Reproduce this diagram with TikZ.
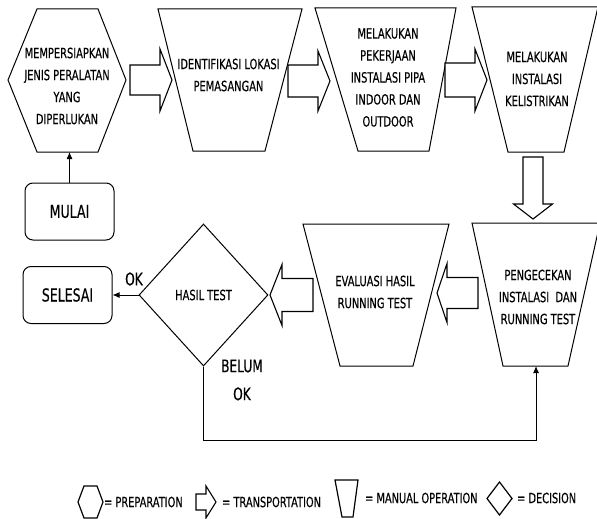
\documentclass[tikz,border=0pt]{standalone}
\usepackage{fontspec}
\setmainfont{DejaVu Sans}[FakeStretch=0.7, FakeBold=0.3]
\usetikzlibrary{shapes.geometric,arrows.meta}

\tikzset{
  outl/.style={draw, line width=1pt, line join=miter, fill=white},
  fat/.style={draw, line width=1.1pt, line join=miter, fill=white},
  lbl/.style={align=center, inner sep=0pt, font=\fontsize{14.1}{22}\selectfont},
  term/.style={draw, line width=1pt, rounded corners=8pt, minimum width=89pt,
               minimum height=57pt, inner sep=0pt, font=\fontsize{17.9}{20}\selectfont},
  dec/.style={draw, diamond, line width=1pt, minimum width=129pt, minimum height=142pt,
              inner sep=0pt, font=\fontsize{14.1}{16}\selectfont},
  conn/.style={draw, line width=1pt, -{Latex[length=7pt,width=6pt]}},
  tag/.style={inner sep=0pt, align=center, font=\fontsize{17.4}{28}\selectfont},
  key/.style={anchor=west, inner sep=0pt, font=\fontsize{14}{16}\selectfont},
  % hollow block arrow: head start / shaft half width / head half width / length
  pics/fatarrow/.style args={#1/#2/#3/#4}{code={
    \draw[fat] (0,-#2) -- (#1,-#2) -- (#1,-#3) -- (#4,0) -- (#1,#3) -- (#1,#2) -- (0,#2) -- cycle;
  }},
}

\begin{document}
\begin{tikzpicture}[x=1pt, y=-1pt]
\useasboundingbox (0,0) rectangle (597,519);
\clip (0,0) rectangle (597,519);

% preparation (hexagon)
\draw[outl] (37,9) -- (98,9) -- (126,80) -- (98,152) -- (37,152) -- (8,80) -- cycle;
\node[lbl] (prep) at (67,86) {MEMPERSIAPKAN\\JENIS PERALATAN\\YANG\\DIPERLUKAN};
\coordinate (prepS) at (69.5,152);

% manual operations, top row
\draw[outl] (158,9) -- (302,9) -- (265,151) -- (193,151) -- cycle;
\node[lbl] (lokasi) at (228.5,75) {IDENTIFIKASI LOKASI\\PEMASANGAN};

\draw[outl] (315,8) -- (456,8) -- (429,151) -- (358,151) -- cycle;
\node[lbl] (pipa) at (388,77.5) {MELAKUKAN\\PEKERJAAN\\INSTALASI PIPA\\INDOOR DAN\\OUTDOOR};

\draw[outl] (472,7) -- (598,7) -- (564,152) -- (508,152) -- cycle;
\node[lbl] (listrik) at (537,79) {MELAKUKAN\\INSTALASI\\KELISTRIKAN};

% manual operations, second row
\draw[outl] (303,224) -- (449,224) -- (413,366) -- (340,366) -- cycle;
\node[lbl] (eval) at (375,292) {EVALUASI HASIL\\RUNNING TEST};

\draw[outl] (472,223) -- (600,223) -- (568,366) -- (503,366) -- cycle;
\node[lbl] (cek) at (538,297) {PENGECEKAN\\INSTALASI\ \ DAN\\RUNNING TEST};
\coordinate (cekS) at (536,366);

% terminals and decision
\node[term] (mulai) at (69.5,211.5) {MULAI};
\node[term] (selesai) at (67.5,295) {SELESAI};
\node[dec] (test) at (203.5,295) {HASIL TEST};

% flow between steps
\pic at (130,80) {fatarrow=30/15/31/42};
\pic at (288,81) {fatarrow=30/16/30/42};
\pic at (445,80) {fatarrow=30/17/31/42};
\pic[rotate=-90] at (533,157) {fatarrow=47/10/19.5/62};
\pic[rotate=180] at (478,293) {fatarrow=31/15.5/29.5/41};
\pic[rotate=180] at (313,295) {fatarrow=31/16.5/30.5/43};

\draw[conn] (mulai.north) -- (prepS);
\draw[conn] (test.west) -- (selesai.east);
\draw[conn] (test.south) -- ++(0,74) -| (cekS);

\node[tag] (ok) at (134,279) {OK};
\node[tag] (belum) at (242,380) {BELUM\\OK};

% legend
\draw[outl, line width=1.2pt] (84,486) -- (97,486) -- (103,502) -- (97,518) -- (84,518) -- (78,502) -- cycle;
\node[key] (kprep) at (104,502) {= PREPARATION};
\pic at (196,502) {fatarrow=10/8/16/20};
\node[key] (ktrans) at (222,502) {= TRANSPORTATION};
\draw[outl, line width=1.2pt] (335,480) -- (358,480) -- (353,517) -- (342,517) -- cycle;
\node[key] (kman) at (365,498) {= MANUAL OPERATION};
\draw[outl, line width=1.2pt] (487,498.5) -- (499.5,482) -- (512,498.5) -- (499.5,515) -- cycle;
\node[key] (kdec) at (517,498) {= DECISION};
\end{tikzpicture}
\end{document}
